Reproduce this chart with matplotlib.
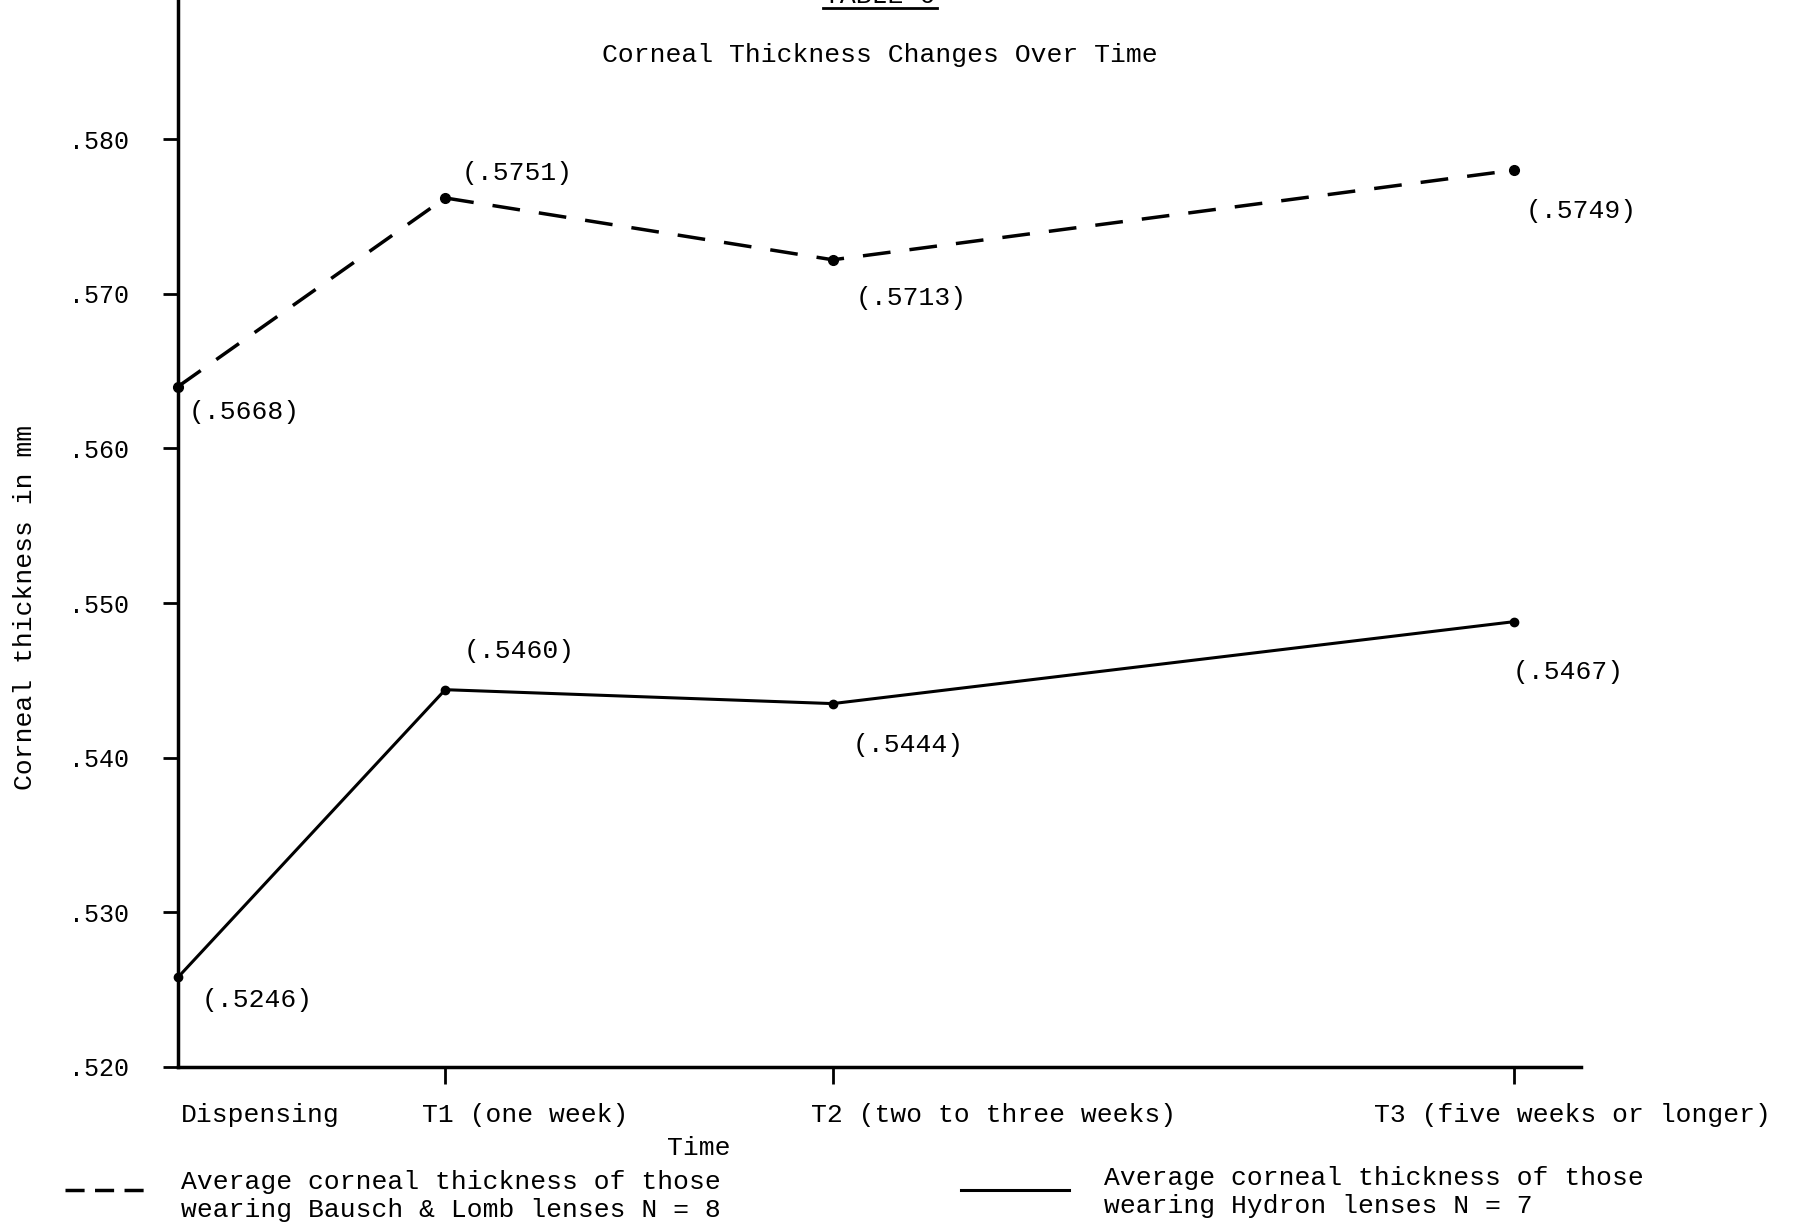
"""Corneal thickness changes over time (typewritten figure, recreated)."""

import matplotlib
matplotlib.use("Agg")
import matplotlib.pyplot as plt
from matplotlib.lines import Line2D

FONT = "Liberation Mono"
plt.rcParams["font.family"] = [FONT, "DejaVu Sans Mono"]
plt.rcParams["font.size"] = 19

# time of each visit in weeks, as spaced on the drawn x axis
weeks = [0, 1, 2.45, 5]
visit_labels = ["Dispensing", "T1 (one week)", "T2 (two to three weeks)",
                "T3 (five weeks or longer)"]

# points as drawn on the original (hand-plotted, a bit off the printed means)
bausch_lomb = [0.5640, 0.5762, 0.5722, 0.5780]
hydron = [0.5258, 0.5444, 0.5435, 0.5488]
# means printed beside each point
bausch_lomb_text = [".5668", ".5751", ".5713", ".5749"]
hydron_text = [".5246", ".5460", ".5444", ".5467"]

yticks = [0.520, 0.530, 0.540, 0.550, 0.560, 0.570, 0.580]

# label offsets in pixels (left edge, vertical centre) relative to each point
BL_OFFS = [(11, -25), (16, 25), (23, -38), (11, -41)]
HY_OFFS = [(24, -23), (18, 39), (20, -41), (-2, -50)]
XLAB_OFFS = [3, -23, -22, -140]

DASH = (0, (8, 5.5))

fig = plt.figure(figsize=(17.99, 12.28), dpi=100)
ax = fig.add_axes([178 / 1799, 161 / 1228, 1403 / 1799, 1067 / 1228])

ax.plot(weeks, bausch_lomb, color="black", lw=2.5, linestyle=DASH,
        marker="o", ms=7, clip_on=False, zorder=3)
ax.plot(weeks, hydron, color="black", lw=2.2, marker="o", ms=6,
        clip_on=False, zorder=3)

for x, y, t, (dx, dy) in zip(weeks, bausch_lomb, bausch_lomb_text, BL_OFFS):
    ax.annotate(f"({t})", (x, y), xytext=(dx, dy), textcoords="offset pixels",
                ha="left", va="center", fontsize=19)
for x, y, t, (dx, dy) in zip(weeks, hydron, hydron_text, HY_OFFS):
    ax.annotate(f"({t})", (x, y), xytext=(dx, dy), textcoords="offset pixels",
                ha="left", va="center", fontsize=19)

ax.set_xlim(0, 5.25)
ax.set_ylim(0.520, 0.589)
ax.set_yticks(yticks)
ax.set_yticklabels([f"{v:.3f}"[1:] for v in yticks])
ax.set_xticks(weeks[1:])
ax.set_xticklabels([])
ax.tick_params(axis="y", direction="out", length=11, width=2, pad=24, labelsize=18)
ax.tick_params(axis="x", direction="out", length=12, width=2)

for s in ("top", "right"):
    ax.spines[s].set_visible(False)
ax.spines["left"].set_linewidth(2.5)
ax.spines["bottom"].set_linewidth(2.5)

xt = ax.get_xaxis_transform()
for x, lab, dx in zip(weeks, visit_labels, XLAB_OFFS):
    ax.annotate(lab, (x, 0), xycoords=xt, xytext=(dx, -48),
                textcoords="offset pixels", ha="left", va="center", fontsize=19)

fig.text(699 / 1799, 1 - 1148 / 1228, "Time", ha="center", va="center")
fig.text(25 / 1799, 0.505, "Corneal thickness in mm", rotation=90,
         ha="center", va="center")
fig.text(880 / 1799, 1 - 55 / 1228, "Corneal Thickness Changes Over Time",
         ha="center", va="center")

# heading cut off by the top edge of the scan
fig.text(880 / 1799, 1 - 3 / 1228, "TABLE 6", ha="center", va="baseline",
         fontsize=19)
fig.add_artist(Line2D([823 / 1799, 937 / 1799], [1 - 8 / 1228] * 2,
                      transform=fig.transFigure, color="black", lw=2))

# key
fig.add_artist(Line2D([65 / 1799, 149 / 1799], [1 - 1190 / 1228] * 2,
                      transform=fig.transFigure, color="black", lw=2.5,
                      linestyle=(0, (5.5, 3))))
fig.text(181 / 1799, 1 - 1196 / 1228,
         "Average corneal thickness of those\nwearing Bausch & Lomb lenses N = 8",
         ha="left", va="center", linespacing=1.22)
fig.add_artist(Line2D([961 / 1799, 1069 / 1799], [1 - 1190 / 1228] * 2,
                      transform=fig.transFigure, color="black", lw=2.2))
fig.text(1104 / 1799, 1 - 1192 / 1228,
         "Average corneal thickness of those\nwearing Hydron lenses N = 7",
         ha="left", va="center", linespacing=1.22)

fig.savefig("out.png", dpi=100)
